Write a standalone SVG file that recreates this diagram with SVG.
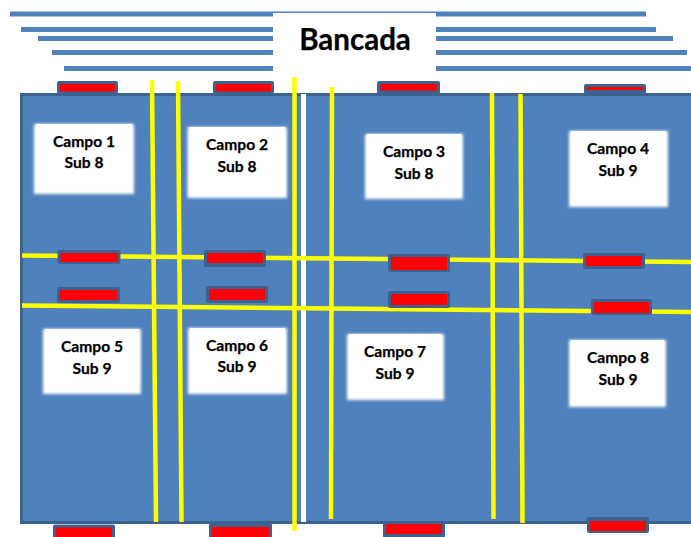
<svg xmlns="http://www.w3.org/2000/svg" width="691" height="537" viewBox="0 0 691 537">
<style>
.bar{fill:#4f81bd}
.y{stroke:#ffff00;stroke-width:4.5;fill:none}
.o{fill:#3d6290}
.r{fill:#ff0000}
.b{fill:#fff}
.s{fill:#fff;filter:url(#soft)}
text{font-family:Lato,"Noto Sans",sans-serif;font-weight:700;fill:#000;text-anchor:middle;stroke:#000;stroke-width:.25}
.t{font-size:15.6px}
</style>
<defs>
<filter id="soft" x="-10%" y="-10%" width="120%" height="120%"><feGaussianBlur stdDeviation="1.6"/></filter>
</defs>
<rect width="691" height="537" fill="#fff"/>
<g id="bancada-lines">
<rect class="bar" x="10" y="11.500" width="636" height="5"/>
<rect class="bar" x="21" y="27" width="635" height="5"/>
<rect class="bar" x="38" y="36" width="635" height="5"/>
<rect class="bar" x="52" y="50" width="635" height="5"/>
<rect class="bar" x="64" y="66" width="627" height="5"/>
</g>
<g id="bancada">
<rect x="273" y="13" width="163" height="72" fill="#fff"/>
<text x="355" y="50" font-size="29.500">Bancada</text>
</g>
<g id="field">
<rect x="21.500" y="94.500" width="672" height="428" fill="#4f81bd" stroke="#3d6290" stroke-width="3"/>
<rect x="301" y="94" width="5" height="428" fill="#fff"/>
</g>
<g id="connectors">
<path class="y" d="M152 80L156 522"/>
<path class="y" d="M178 81L181.500 522"/>
<path class="y" d="M294.500 77L294.500 531"/>
<path class="y" d="M332 87L331 519"/>
<path class="y" d="M492 93L493.500 519"/>
<path class="y" d="M520.500 94L522.500 523"/>
<path class="y" d="M22 255.500L691 262"/>
<path class="y" d="M22 305.500L691 312"/>
</g>
<g id="sensors">
<rect class="o" x="57" y="81" width="61" height="13" rx="2"/><rect class="r" x="60" y="84" width="55" height="7.500"/>
<rect class="o" x="213" y="81" width="61" height="13" rx="2"/><rect class="r" x="216" y="84" width="55" height="7.500"/>
<rect class="o" x="377" y="81" width="63" height="13" rx="2"/><rect class="r" x="380.500" y="84" width="56.500" height="6.500"/>
<rect class="o" x="584" y="84" width="62" height="10" rx="2"/><rect class="r" x="586.500" y="87" width="56.500" height="3"/>
<rect class="o" x="57.500" y="250" width="63" height="14" rx="2"/><rect class="r" x="60.500" y="253" width="57.500" height="9"/>
<rect class="o" x="204" y="250" width="62" height="17" rx="2"/><rect class="r" x="207" y="253" width="56" height="10"/>
<rect class="o" x="388" y="254" width="62" height="18" rx="2"/><rect class="r" x="391" y="257" width="56" height="13"/>
<rect class="o" x="583" y="253" width="62" height="16" rx="2"/><rect class="r" x="586" y="256" width="56" height="10"/>
<rect class="o" x="57" y="287" width="63" height="16" rx="2"/><rect class="r" x="59.500" y="290" width="57.500" height="10"/>
<rect class="o" x="206" y="286" width="62" height="17" rx="2"/><rect class="r" x="209" y="289" width="56" height="11"/>
<rect class="o" x="388" y="291" width="62" height="17" rx="2"/><rect class="r" x="391" y="294" width="56" height="11"/>
<rect class="o" x="591" y="299" width="61" height="16" rx="2"/><rect class="r" x="594" y="302" width="55" height="11"/>
<rect class="o" x="53" y="524.500" width="62" height="14" rx="2"/><rect class="r" x="56" y="527.500" width="56" height="10"/>
<rect class="o" x="209" y="523" width="63" height="15" rx="2"/><rect class="r" x="212" y="527" width="57" height="10"/>
<rect class="o" x="383" y="521" width="62" height="17" rx="2"/><rect class="r" x="386" y="524" width="56" height="10"/>
<rect class="o" x="587" y="517" width="62" height="16" rx="2"/><rect class="r" x="590" y="521" width="56" height="10"/>
</g>
<g id="campo1"><rect class="s" x="34" y="124" width="100" height="70"/><rect class="b" x="36" y="124" width="96" height="66"/><text class="t" x="84" y="147">Campo 1</text><text class="t" x="84" y="168">Sub 8</text></g>
<g id="campo2"><rect class="s" x="187.500" y="127" width="99.500" height="71"/><rect class="b" x="189.500" y="127" width="95.500" height="67"/><text class="t" x="237" y="150">Campo 2</text><text class="t" x="237" y="172">Sub 8</text></g>
<g id="campo3"><rect class="s" x="365" y="134" width="98" height="65"/><rect class="b" x="367" y="134" width="94" height="61"/><text class="t" x="414" y="157">Campo 3</text><text class="t" x="414" y="179">Sub 8</text></g>
<g id="campo4"><rect class="s" x="569" y="131" width="99" height="76"/><rect class="b" x="571" y="131" width="95" height="72"/><text class="t" x="618" y="154">Campo 4</text><text class="t" x="618" y="176">Sub 9</text></g>
<g id="campo5"><rect class="s" x="43" y="329" width="98" height="65"/><rect class="b" x="45" y="329" width="94" height="61"/><text class="t" x="92" y="352">Campo 5</text><text class="t" x="92" y="374">Sub 9</text></g>
<g id="campo6"><rect class="s" x="188" y="328" width="99" height="66"/><rect class="b" x="190" y="328" width="95" height="62"/><text class="t" x="237" y="351">Campo 6</text><text class="t" x="237" y="372">Sub 9</text></g>
<g id="campo7"><rect class="s" x="347" y="334" width="97" height="66"/><rect class="b" x="349" y="334" width="93" height="62"/><text class="t" x="395" y="357">Campo 7</text><text class="t" x="395" y="379">Sub 9</text></g>
<g id="campo8"><rect class="s" x="569" y="340" width="97" height="67"/><rect class="b" x="571" y="340" width="93" height="63"/><text class="t" x="618" y="363">Campo 8</text><text class="t" x="618" y="385">Sub 9</text></g>
</svg>
